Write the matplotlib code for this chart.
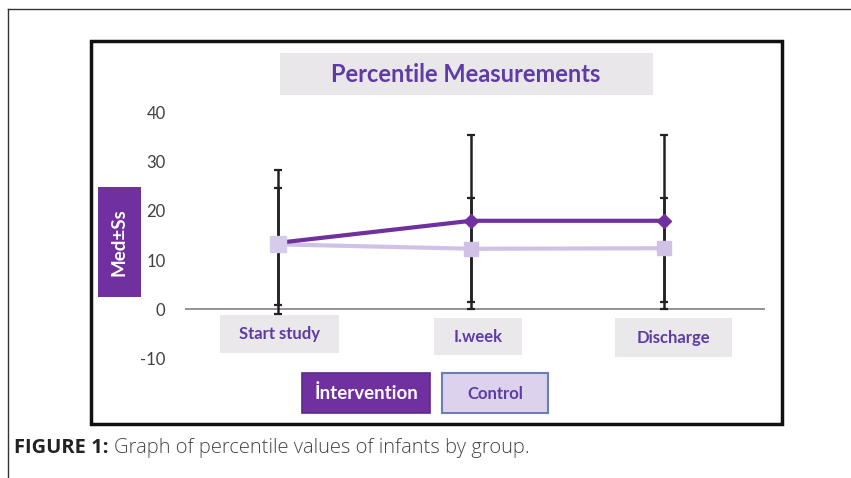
import numpy as np
import matplotlib
matplotlib.use("Agg")
import matplotlib.pyplot as plt
from matplotlib.patches import Rectangle

# data
categories = ["Start study", "I.week", "Discharge"]
intervention = [13.5, 18.0, 18.0]
intervention_low = [-1.0, 0.0, 0.0]
intervention_high = [28.4, 35.5, 35.5]
control = [13.2, 12.3, 12.4]
control_low = [0.8, 1.4, 1.4]
control_high = [24.7, 22.7, 22.7]
yticks = [-10, 0, 10, 20, 30, 40]

W, H = 851, 478
PURPLE = "#7030A0"
LAVENDER = "#CFC2E6"
TXT = "#5E3BA6"
FONT = ["Lato", "DejaVu Sans"]
CAP_FONT = ["Open Sans", "DejaVu Sans"]

fig = plt.figure(figsize=(W / 100, H / 100), dpi=100)
fig.patch.set_facecolor("white")


def box(x0, y0, x1, y1, fc, ec="none", lw=0, z=-1):
    # rectangle given in image pixels (top-left origin)
    r = Rectangle((x0 / W, 1 - y1 / H), (x1 - x0) / W, (y1 - y0) / H,
                  transform=fig.transFigure, fc=fc, ec=ec, lw=lw, zorder=z)
    fig.add_artist(r)


def ftext(x, y, s, **kw):
    return fig.text(x / W, 1 - y / H, s, **kw)


# outer page frame (top and left only) and the chart's black frame
fig.add_artist(plt.Line2D([8 / W, 1], [1 - 9 / H, 1 - 9 / H], transform=fig.transFigure,
                          color="#333333", lw=1.0))
fig.add_artist(plt.Line2D([8 / W, 8 / W], [0, 1 - 9 / H], transform=fig.transFigure,
                          color="#333333", lw=1.0))
box(91, 41, 782, 424, fc="white", ec="#111111", lw=2.5, z=-2)

# plot area: x from 185 to 765 px, y from 103 to 368 px
ax = fig.add_axes([185 / W, 1 - 368 / H, 580 / W, 265 / H])
ax.set_xlim(-0.48, 2.52)
ax.set_ylim(-12, 42)
ax.patch.set_alpha(0)
for s in ax.spines.values():
    s.set_visible(False)
ax.axhline(0, color="#8a8a8a", lw=1.3, zorder=1)
ax.set_xticks([])
ax.set_yticks(yticks)
ax.set_yticklabels([str(t) for t in yticks], fontsize=12, color="#404040", family=FONT)
ax.tick_params(axis="y", length=0, pad=14)

x = np.arange(len(categories))
inter = np.array(intervention)
ctrl = np.array(control)
ax.errorbar(x, inter, yerr=[inter - np.array(intervention_low), np.array(intervention_high) - inter],
            fmt="none", ecolor="#222222", elinewidth=1.8, capsize=3, capthick=1.6, zorder=2)
ax.errorbar(x, ctrl, yerr=[ctrl - np.array(control_low), np.array(control_high) - ctrl],
            fmt="none", ecolor="#222222", elinewidth=1.8, capsize=3, capthick=1.6, zorder=2)
ax.plot(x, ctrl, "-s", color=LAVENDER, lw=3, ms=10, mec=LAVENDER, zorder=3)
ax.plot(x, inter, "-D", color=PURPLE, lw=3, ms=7, mec=PURPLE, zorder=4)
# start-study control square sits on top in the reference
ax.plot(x[:1], ctrl[:1], "s", color="#D6CCEA", ms=11, zorder=5)

# title box
box(280, 53, 653, 95, fc="#E9E7EA")
ftext(466, 75, "Percentile Measurements", ha="center", va="center", fontsize=17,
      fontweight="bold", color=TXT, family=FONT)

# y label box
box(98, 187, 141, 297, fc=PURPLE)
ftext(119.5, 242, "Med±Ss", ha="center", va="center", rotation=90, fontsize=13.5,
      fontweight="bold", color="white", family=FONT)

# category label boxes
cat_boxes = [(220, 315, 339, 353), (434, 318, 522, 355), (615, 318, 732, 357)]
for (x0, y0, x1, y1), lab in zip(cat_boxes, categories):
    box(x0, y0, x1, y1, fc="#EAE8EB")
    ftext((x0 + x1) / 2, (y0 + y1) / 2, lab, ha="center", va="center", fontsize=12,
          fontweight="bold", color=TXT, family=FONT)

# legend boxes
box(302, 373, 430, 413, fc=PURPLE, ec="#5a2a86", lw=1.2)
ftext(366, 393, "İntervention", ha="center", va="center", fontsize=13.5,
      fontweight="bold", color="white", family=FONT)
box(442, 373, 548, 413, fc="#DCD2EE", ec="#6B7FAE", lw=1.5)
ftext(495, 394, "Control", ha="center", va="center", fontsize=12,
      fontweight="bold", color=TXT, family=FONT)

# caption: bold lead-in, then the rest right after it
lead = ftext(14, 448, "FIGURE 1:", ha="left", va="center", fontsize=14.5, fontweight="bold",
             color="#222222", family=CAP_FONT)
r = fig.canvas.get_renderer()
end_px = lead.get_window_extent(renderer=r).x1
ftext(end_px + 5, 448, "Graph of percentile values of infants by group.", ha="left", va="center",
      fontsize=14.5, color="#444444", family=CAP_FONT, fontweight="light")

fig.savefig("out.png", dpi=100)
